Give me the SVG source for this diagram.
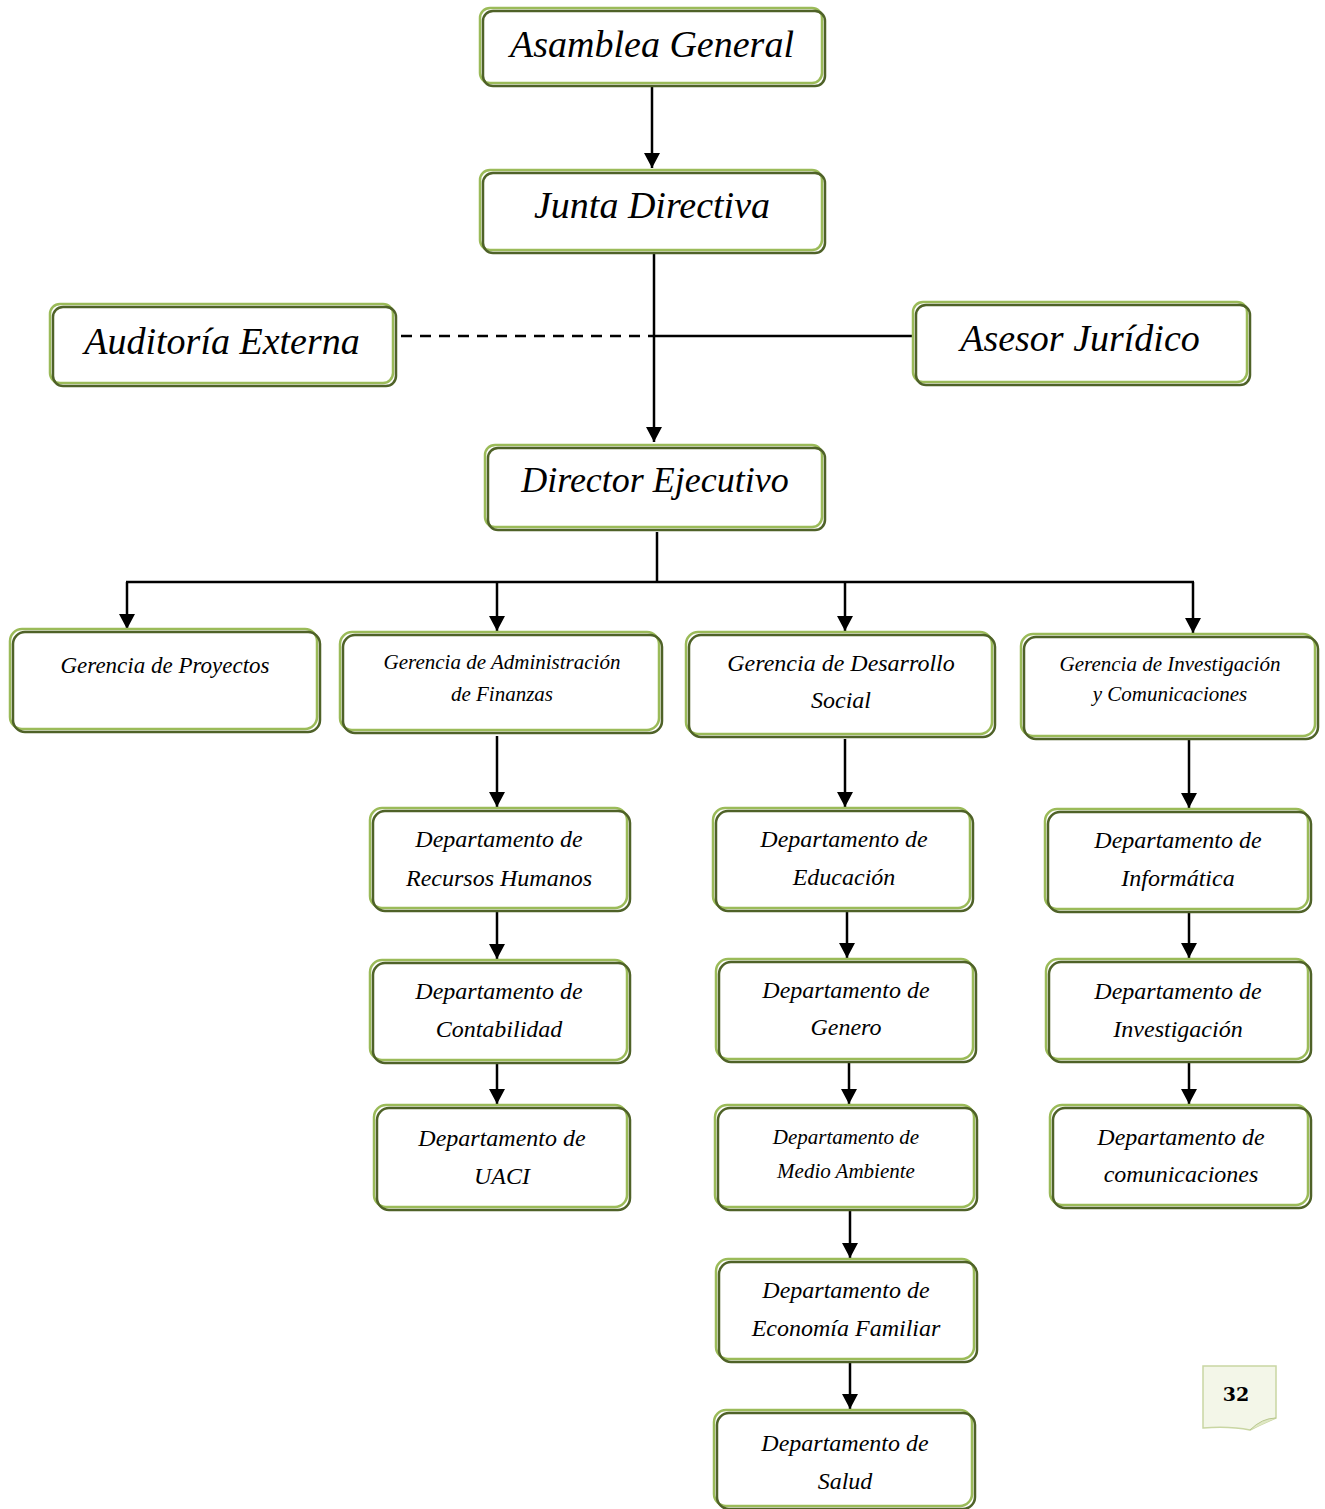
<svg xmlns="http://www.w3.org/2000/svg" width="1325" height="1509" viewBox="0 0 1325 1509">
<style>
.lt{fill:#ffffff;stroke:#9bbb59;stroke-width:2.5}
.dk{fill:none;stroke:#4f6228;stroke-width:2.5}
text{font-family:"Liberation Serif",serif;font-style:italic;fill:#000;text-anchor:middle}
.c{stroke:#000;stroke-width:2.5;fill:none}
.t1{font-size:38px}
.t2{font-size:24px}
.t3{font-size:21px}
</style>
<defs>
<marker id="ar" viewBox="0 0 15 16" refX="15" refY="8" markerWidth="15" markerHeight="16" markerUnits="userSpaceOnUse" orient="auto">
<path d="M0,0 L15,8 L0,16 Z" fill="#000"/>
</marker>
</defs>
<g id="connectors">
<line class="c" x1="652" y1="86" x2="652" y2="168" marker-end="url(#ar)"/>
<line class="c" x1="654" y1="254" x2="654" y2="442" marker-end="url(#ar)"/>
<line class="c" x1="401" y1="336" x2="654" y2="336" stroke-dasharray="11,8"/>
<line class="c" x1="654" y1="336" x2="913" y2="336"/>
<line class="c" x1="657" y1="532" x2="657" y2="582"/>
<line class="c" x1="126" y1="582" x2="1194" y2="582"/>
<line class="c" x1="127" y1="582" x2="127" y2="629" marker-end="url(#ar)"/>
<line class="c" x1="497" y1="582" x2="497" y2="631" marker-end="url(#ar)"/>
<line class="c" x1="845" y1="582" x2="845" y2="631" marker-end="url(#ar)"/>
<line class="c" x1="1193" y1="582" x2="1193" y2="633" marker-end="url(#ar)"/>
<line class="c" x1="497" y1="736" x2="497" y2="807" marker-end="url(#ar)"/>
<line class="c" x1="497" y1="911" x2="497" y2="959" marker-end="url(#ar)"/>
<line class="c" x1="497" y1="1063" x2="497" y2="1104" marker-end="url(#ar)"/>
<line class="c" x1="845" y1="739" x2="845" y2="807" marker-end="url(#ar)"/>
<line class="c" x1="847" y1="912" x2="847" y2="958" marker-end="url(#ar)"/>
<line class="c" x1="849" y1="1062" x2="849" y2="1104" marker-end="url(#ar)"/>
<line class="c" x1="850" y1="1211" x2="850" y2="1258" marker-end="url(#ar)"/>
<line class="c" x1="850" y1="1363" x2="850" y2="1409" marker-end="url(#ar)"/>
<line class="c" x1="1189" y1="740" x2="1189" y2="808" marker-end="url(#ar)"/>
<line class="c" x1="1189" y1="912" x2="1189" y2="958" marker-end="url(#ar)"/>
<line class="c" x1="1189" y1="1062" x2="1189" y2="1104" marker-end="url(#ar)"/>
</g>
<g id="asamblea">
<rect class="lt" x="480" y="8" width="342" height="75" rx="10"/>
<rect class="dk" x="483" y="11" width="342" height="75" rx="10"/>
<text class="t1" x="652" y="57">Asamblea General</text>
</g>
<g id="junta">
<rect class="lt" x="480" y="170" width="342" height="80" rx="10"/>
<rect class="dk" x="483" y="173" width="342" height="80" rx="10"/>
<text class="t1" x="652" y="218">Junta Directiva</text>
</g>
<g id="auditoria">
<rect class="lt" x="50" y="304" width="343" height="79" rx="10"/>
<rect class="dk" x="53" y="307" width="343" height="79" rx="10"/>
<text class="t1" x="222" y="354">Auditoría Externa</text>
</g>
<g id="asesor">
<rect class="lt" x="913" y="302" width="334" height="80" rx="10"/>
<rect class="dk" x="916" y="305" width="334" height="80" rx="10"/>
<text class="t1" x="1080" y="351">Asesor Jurídico</text>
</g>
<g id="director">
<rect class="lt" x="485" y="445" width="337" height="82" rx="10"/>
<rect class="dk" x="488" y="448" width="337" height="82" rx="10"/>
<text class="t1" style="font-size:36px" x="655" y="492">Director Ejecutivo</text>
</g>
<g id="g-proyectos">
<rect class="lt" x="10" y="629" width="307" height="100" rx="12"/>
<rect class="dk" x="13" y="632" width="307" height="100" rx="12"/>
<text style="font-size:23px" x="165" y="673">Gerencia de Proyectos</text>
</g>
<g id="g-admin">
<rect class="lt" x="340" y="632" width="319" height="98" rx="12"/>
<rect class="dk" x="343" y="635" width="319" height="98" rx="12"/>
<text class="t3" x="502" y="669">Gerencia de Administración</text>
<text class="t3" x="502" y="701">de Finanzas</text>
</g>
<g id="g-desarrollo">
<rect class="lt" x="686" y="632" width="306" height="102" rx="12"/>
<rect class="dk" x="689" y="635" width="306" height="102" rx="12"/>
<text class="t2" x="841" y="671">Gerencia de Desarrollo</text>
<text class="t2" x="841" y="708">Social</text>
</g>
<g id="g-investigacion">
<rect class="lt" x="1021" y="634" width="294" height="102" rx="12"/>
<rect class="dk" x="1024" y="637" width="294" height="102" rx="12"/>
<text class="t3" x="1170" y="671">Gerencia de Investigación</text>
<text class="t3" x="1170" y="701">y Comunicaciones</text>
</g>
<g id="d-rrhh">
<rect class="lt" x="370" y="808" width="257" height="100" rx="12"/>
<rect class="dk" x="373" y="811" width="257" height="100" rx="12"/>
<text class="t2" x="499" y="847">Departamento de</text>
<text class="t2" x="499" y="886">Recursos Humanos</text>
</g>
<g id="d-contabilidad">
<rect class="lt" x="370" y="960" width="257" height="100" rx="12"/>
<rect class="dk" x="373" y="963" width="257" height="100" rx="12"/>
<text class="t2" x="499" y="999">Departamento de</text>
<text class="t2" x="499" y="1037">Contabilidad</text>
</g>
<g id="d-uaci">
<rect class="lt" x="374" y="1105" width="253" height="102" rx="12"/>
<rect class="dk" x="377" y="1108" width="253" height="102" rx="12"/>
<text class="t2" x="502" y="1146">Departamento de</text>
<text class="t2" x="502" y="1184">UACI</text>
</g>
<g id="d-educacion">
<rect class="lt" x="713" y="808" width="257" height="100" rx="12"/>
<rect class="dk" x="716" y="811" width="257" height="100" rx="12"/>
<text class="t2" x="844" y="847">Departamento de</text>
<text class="t2" x="844" y="885">Educación</text>
</g>
<g id="d-genero">
<rect class="lt" x="716" y="959" width="257" height="100" rx="12"/>
<rect class="dk" x="719" y="962" width="257" height="100" rx="12"/>
<text class="t2" x="846" y="998">Departamento de</text>
<text class="t2" x="846" y="1035">Genero</text>
</g>
<g id="d-medio">
<rect class="lt" x="715" y="1105" width="259" height="102" rx="12"/>
<rect class="dk" x="718" y="1108" width="259" height="102" rx="12"/>
<text class="t3" x="846" y="1144">Departamento de</text>
<text class="t3" x="846" y="1178">Medio Ambiente</text>
</g>
<g id="d-economia">
<rect class="lt" x="716" y="1259" width="258" height="100" rx="12"/>
<rect class="dk" x="719" y="1262" width="258" height="100" rx="12"/>
<text class="t2" x="846" y="1298">Departamento de</text>
<text class="t2" x="846" y="1336">Economía Familiar</text>
</g>
<g id="d-salud">
<rect class="lt" x="714" y="1410" width="258" height="96" rx="12"/>
<rect class="dk" x="717" y="1413" width="258" height="96" rx="12"/>
<text class="t2" x="845" y="1451">Departamento de</text>
<text class="t2" x="845" y="1489">Salud</text>
</g>
<g id="d-informatica">
<rect class="lt" x="1045" y="809" width="263" height="100" rx="12"/>
<rect class="dk" x="1048" y="812" width="263" height="100" rx="12"/>
<text class="t2" x="1178" y="848">Departamento de</text>
<text class="t2" x="1178" y="886">Informática</text>
</g>
<g id="d-investigacion">
<rect class="lt" x="1046" y="959" width="262" height="100" rx="12"/>
<rect class="dk" x="1049" y="962" width="262" height="100" rx="12"/>
<text class="t2" x="1178" y="999">Departamento de</text>
<text class="t2" x="1178" y="1037">Investigación</text>
</g>
<g id="d-comunicaciones">
<rect class="lt" x="1050" y="1105" width="258" height="100" rx="12"/>
<rect class="dk" x="1053" y="1108" width="258" height="100" rx="12"/>
<text class="t2" x="1181" y="1145">Departamento de</text>
<text class="t2" x="1181" y="1182">comunicaciones</text>
</g>
<g id="page-number">
<path d="M1203,1366 L1276,1366 L1276,1418 Q1262,1424 1250,1430 Q1230,1426 1203,1428 Z" fill="#f3f6e8" stroke="#c9d6a3" stroke-width="1.5"/>
<path d="M1250,1430 Q1262,1418 1276,1418" fill="#dfe7c4" stroke="#b8c78e" stroke-width="1"/>
<text x="1236" y="1401" style="font-family:'DejaVu Serif','Liberation Serif',serif;font-style:normal;font-weight:bold;font-size:19px">32</text>
</g>
</svg>
